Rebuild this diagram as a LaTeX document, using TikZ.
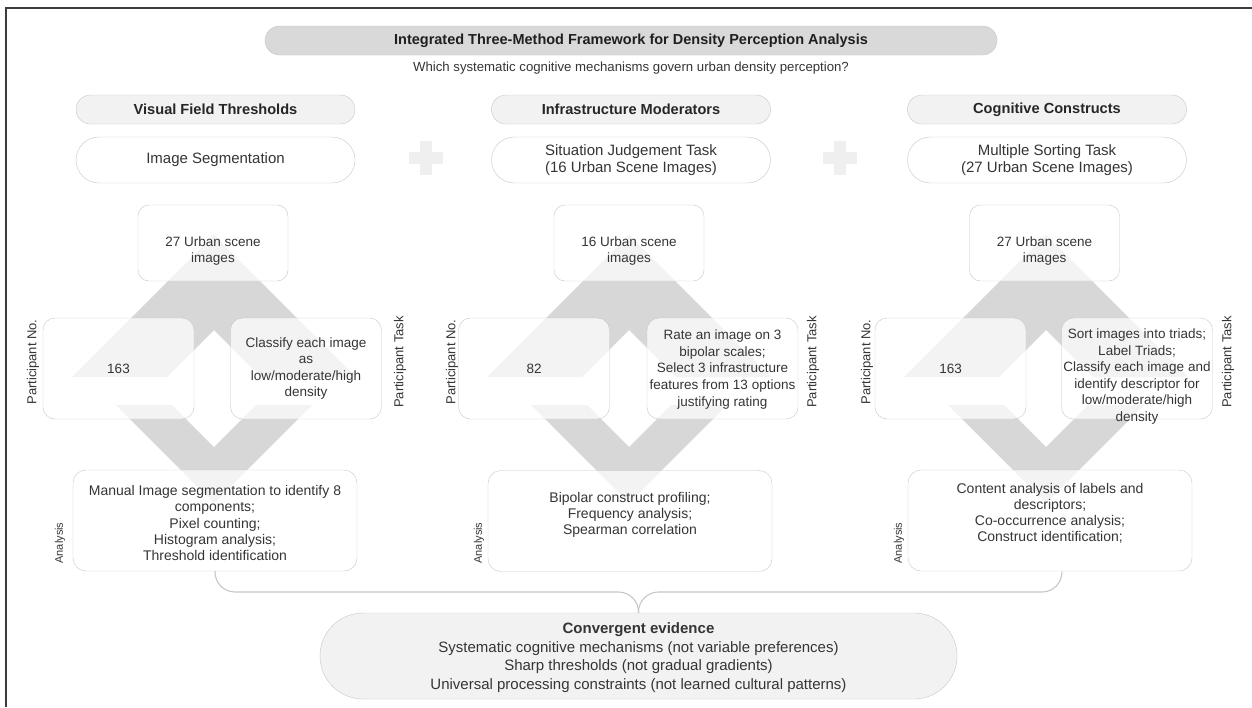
\documentclass[tikz,border=0pt]{standalone}
\usepackage{fontspec}
\setmainfont{Liberation Sans}
\usetikzlibrary{calc}
\definecolor{txt}{HTML}{353535}
\definecolor{dia}{HTML}{D7D7D7}
\definecolor{edgec}{HTML}{C6C6C6}
\definecolor{pillc}{HTML}{F2F2F2}
\definecolor{titlec}{HTML}{D9D9D9}
\definecolor{plusc}{HTML}{EFEFEF}
\definecolor{framec}{HTML}{3C3C3C}
\begin{document}
\begin{tikzpicture}[x=1pt,y=-1pt,
  every node/.style={text=txt},
  titlepill/.style={draw=edgec, fill=titlec, rounded corners=14.5pt, minimum width=732pt, minimum height=29pt, inner sep=0pt, font=\fontsize{14.5}{17}\selectfont\bfseries, text=black!88},
  subt/.style={font=\fontsize{13.2}{16}\selectfont, inner sep=0pt},
  headpill/.style={draw=edgec, fill=pillc, rounded corners=14.5pt, minimum width=279pt, minimum height=29pt, inner sep=0pt, font=\fontsize{14.6}{17}\selectfont\bfseries, text=black!85},
  methpill/.style={draw=edgec, fill=white, rounded corners=23pt, minimum width=279pt, minimum height=46pt, inner sep=0pt, align=center, font=\fontsize{15}{17.5}\selectfont},
  topbox/.style={draw=edgec, fill=white, fill opacity=0.7, text opacity=1, rounded corners=11pt, minimum width=150pt, minimum height=76pt, inner sep=0pt},
  sidebox/.style={draw=edgec, fill=white, fill opacity=0.7, text opacity=1, rounded corners=12pt, minimum width=151pt, minimum height=101pt, inner sep=0pt},
  anabox/.style={draw=edgec, fill=white, fill opacity=0.7, text opacity=1, rounded corners=13pt, minimum width=284pt, minimum height=101pt, inner sep=0pt},
  boxtxt/.style={align=center, inner sep=0pt, font=\fontsize{13.5}{16.6}\selectfont},
  anatxt/.style={align=center, inner sep=0pt, font=\fontsize{14}{16.2}\selectfont},
  sidelab/.style={rotate=90, inner sep=0pt, font=\fontsize{13}{15}\selectfont},
  analab/.style={rotate=90, inner sep=0pt, font=\fontsize{11}{13}\selectfont},
  convbox/.style={draw=edgec, fill=pillc, rounded corners=43pt, minimum width=637pt, minimum height=86pt, inner sep=0pt},
  convtxt/.style={align=center, inner sep=0pt, font=\fontsize{15}{18.7}\selectfont},
  bracel/.style={draw=edgec, line width=1.1pt, rounded corners=20pt}
]
\useasboundingbox (0,0) rectangle (1252,707);
% frame
\draw[framec, line width=1.6pt] (6,707) -- (6,8) -- (1252,8);

% title
\node[titlepill] (title) at (631,40.5) {Integrated Three-Method Framework for Density Perception Analysis};
\node[subt] (sub) at (631,68) {Which systematic cognitive mechanisms govern urban density perception?};

% headers
\node[headpill] (h1) at (215.5,109.5) {Visual Field Thresholds};
\node[headpill] (h2) at (631,109.5) {Infrastructure Moderators};
\node[headpill] (h3) at (1047,109.5) {Cognitive Constructs};

% methods
\node[methpill] (m1) at (215.5,160) {Image Segmentation};
\node[methpill] (m2) at (631,160) {Situation Judgement Task\\(16 Urban Scene Images)};
\node[methpill] (m3) at (1047,160) {Multiple Sorting Task\\(27 Urban Scene Images)};

% plus signs
\foreach \px in {426,840}{
  \fill[plusc] (\px-17,152) rectangle (\px+17,164);
  \fill[plusc] (\px-6,141) rectangle (\px+6,175);
}

% diamonds (chevrons)
\foreach \cx in {214,629,1046}{
  \fill[dia] (\cx,235) -- (\cx-142,377) -- (\cx-47,377) -- (\cx,330) -- (\cx+47,377) -- (\cx+142,377) -- cycle;
  \fill[dia] (\cx,503) -- (\cx-98,405) -- (\cx-42,405) -- (\cx,447) -- (\cx+42,405) -- (\cx+98,405) -- cycle;
}

% column 1
\node[topbox] (t1) at (213,243) {};
\node[boxtxt] at ($(t1.center)+(0,8)$) {27 Urban scene\\images};
\node[sidebox] (l1) at (118.5,368.5) {};
\node[boxtxt] at (l1.center) {163};
\node[sidebox] (r1) at (306,368.5) {};
\node[boxtxt] at (r1.center) {Classify each image\\as\\low/moderate/high\\density};
\node[sidelab] (pn1) at (33,362) {Participant No.};
\node[sidelab] (pt1) at (400,362) {Participant Task};
\node[anabox] (a1) at (215,520.5) {};
\node[anatxt] at ($(a1.center)+(0,2.5)$) {Manual Image segmentation to identify 8\\components;\\Pixel counting;\\Histogram analysis;\\Threshold identification};
\node[analab] (al1) at (60,543) {Analysis};

% column 2
\node[topbox] (t2) at (629,243) {};
\node[boxtxt] at ($(t2.center)+(0,8)$) {16 Urban scene\\images};
\node[sidebox] (l2) at (534,368.5) {};
\node[boxtxt] at (l2.center) {82};
\node[sidebox] (r2) at (722.5,368.5) {};
\node[boxtxt] at ($(r2.center)+(0,1)$) {Rate an image on 3\\bipolar scales;\\Select 3 infrastructure\\features from 13 options\\justifying rating};
\node[sidelab] (pn2) at (452,362) {Participant No.};
\node[sidelab] (pt2) at (813,362) {Participant Task};
\node[anabox] (a2) at (630,521) {};
\node[anatxt] at ($(a2.center)+(0,-6)$) {Bipolar construct profiling;\\Frequency analysis;\\Spearman correlation};
\node[analab] (al2) at (479,543) {Analysis};

% column 3
\node[topbox] (t3) at (1044.5,243) {};
\node[boxtxt] at ($(t3.center)+(0,8)$) {27 Urban scene\\images};
\node[sidebox] (l3) at (950.5,368.5) {};
\node[boxtxt] at (l3.center) {163};
\node[sidebox] (r3) at (1137,368.5) {};
\node[boxtxt] at ($(r3.center)+(0,8)$) {Sort images into triads;\\Label Triads;\\Classify each image and\\identify descriptor for\\low/moderate/high\\density};
\node[sidelab] (pn3) at (867,362) {Participant No.};
\node[sidelab] (pt3) at (1228,362) {Participant Task};
\node[anabox] (a3) at (1050,520.5) {};
\node[anatxt] at ($(a3.center)+(0,-7)$) {Content analysis of labels and\\descriptors;\\Co-occurrence analysis;\\Construct identification;};
\node[analab] (al3) at (899,543) {Analysis};

% convergent evidence
\node[convbox] (conv) at (638.5,656) {};
\node[convtxt] at ($(conv.center)+(0,1.5)$) {\textbf{Convergent evidence}\\Systematic cognitive mechanisms (not variable preferences)\\Sharp thresholds (not gradual gradients)\\Universal processing constraints (not learned cultural patterns)};

% brace
\coordinate (bm) at (638.5,592);
\coordinate (rend) at (1062,571.5);
\draw[bracel] (a1.south) |- (bm) -- (conv.north);
\draw[bracel] (conv.north) -- (bm) -| (rend);
\end{tikzpicture}
\end{document}
